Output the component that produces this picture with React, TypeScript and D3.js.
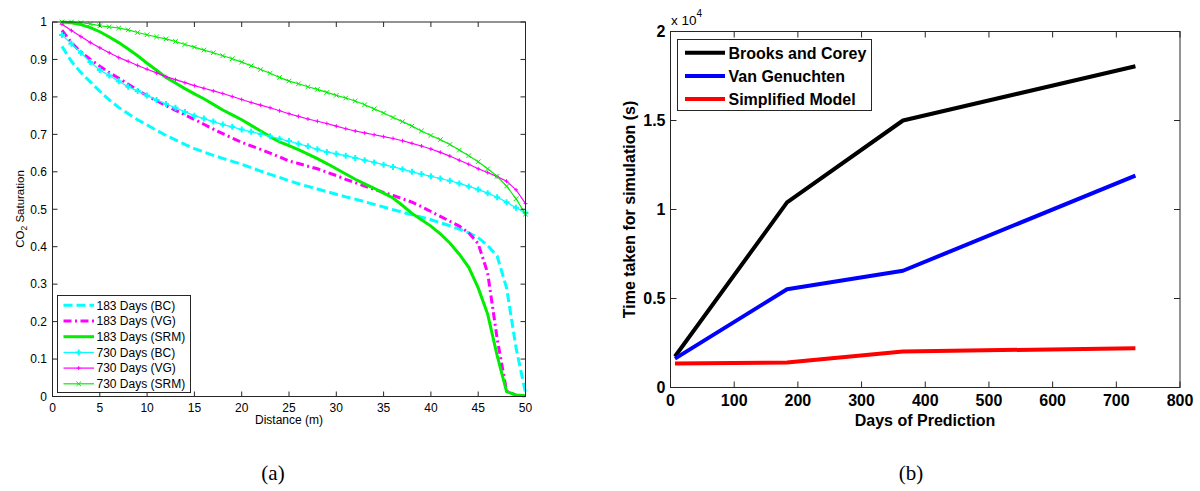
import React from 'react';
import * as d3 from 'd3';

// ---------- Data: panel (a) ----------
const distance = [1,2,3,4,5,6,7,8,9,10,11,12,13,14,15,16,17,18,19,20,21,22,23,24,25,26,27,28,29,30,31,32,33,34,35,36,37,38,39,40,41,42,43,44,45,46,47,48,49,50];

const bc183 = [0.935,0.895,0.865,0.84,0.815,0.792,0.772,0.755,0.739,0.725,0.711,0.697,0.685,0.673,0.662,0.653,0.644,0.636,0.628,0.62,0.611,0.602,0.593,0.585,0.576,0.568,0.561,0.554,0.547,0.54,0.533,0.527,0.52,0.513,0.506,0.499,0.492,0.485,0.479,0.472,0.464,0.456,0.447,0.437,0.424,0.403,0.375,0.29,0.13,0.01];
const vg183 = [0.978,0.945,0.92,0.9,0.882,0.865,0.85,0.834,0.818,0.803,0.79,0.777,0.764,0.752,0.74,0.727,0.714,0.702,0.69,0.679,0.669,0.66,0.65,0.64,0.629,0.622,0.615,0.608,0.599,0.59,0.58,0.571,0.562,0.553,0.545,0.537,0.528,0.519,0.507,0.494,0.481,0.468,0.455,0.437,0.408,0.33,0.155,0.015,0.003,0.002];
const srm183 = [1.0,0.998,0.993,0.985,0.974,0.96,0.945,0.928,0.91,0.89,0.871,0.852,0.837,0.822,0.808,0.795,0.78,0.765,0.752,0.739,0.724,0.709,0.694,0.68,0.67,0.659,0.647,0.635,0.622,0.608,0.594,0.58,0.568,0.556,0.543,0.53,0.51,0.489,0.472,0.455,0.434,0.41,0.38,0.345,0.29,0.22,0.11,0.013,0.004,0.002];
const bc730 = [0.965,0.942,0.918,0.893,0.872,0.857,0.842,0.827,0.816,0.804,0.792,0.781,0.771,0.76,0.75,0.742,0.734,0.726,0.72,0.713,0.707,0.701,0.695,0.688,0.682,0.675,0.668,0.66,0.653,0.648,0.643,0.637,0.631,0.625,0.619,0.613,0.607,0.6,0.594,0.588,0.582,0.576,0.569,0.561,0.553,0.543,0.532,0.519,0.504,0.49];
const vg730 = [0.994,0.977,0.961,0.945,0.931,0.918,0.905,0.895,0.884,0.874,0.864,0.854,0.846,0.838,0.83,0.823,0.816,0.809,0.801,0.793,0.785,0.778,0.771,0.763,0.755,0.748,0.741,0.735,0.729,0.722,0.715,0.709,0.704,0.699,0.694,0.689,0.683,0.676,0.669,0.661,0.652,0.642,0.631,0.62,0.608,0.598,0.587,0.575,0.552,0.515];
const srm730 = [1.0,1.0,0.998,0.995,0.99,0.987,0.984,0.979,0.972,0.966,0.96,0.955,0.948,0.94,0.933,0.925,0.918,0.91,0.902,0.893,0.883,0.873,0.863,0.852,0.842,0.835,0.827,0.82,0.812,0.804,0.797,0.789,0.779,0.768,0.757,0.745,0.734,0.722,0.709,0.697,0.686,0.673,0.658,0.643,0.627,0.608,0.588,0.562,0.528,0.487];

const leftLegend = ['183 Days (BC)','183 Days (VG)','183 Days (SRM)','730 Days (BC)','730 Days (VG)','730 Days (SRM)'];
const leftXTicks = [0,5,10,15,20,25,30,35,40,45,50];
const leftYTicks = [0,0.1,0.2,0.3,0.4,0.5,0.6,0.7,0.8,0.9,1];

// ---------- Data: panel (b) ----------
const days = [7,183,365,730];
const brooksCorey = [1740,10400,15000,18050];
const vanGenuchten = [1620,5520,6560,11900];
const simplified = [1350,1400,2020,2210];
const rightLegend = ['Brooks and Corey','Van Genuchten','Simplified Model'];
const rightXTicks = [0,100,200,300,400,500,600,700,800];
const rightYTicks = [0,5000,10000,15000,20000];
const rightYTickLabels = ['0','0.5','1','1.5','2'];

const FONT = '"Liberation Sans", Arial, sans-serif';
const AX = '#262626';

type Series = { values: number[]; color: string; width: number; dash?: string; marker?: 'plus' | 'x'; msize?: number; mwidth?: number };

const leftSeries: Series[] = [
  { values: bc183, color: '#00FFFF', width: 3, dash: '9,4' },
  { values: vg183, color: '#FF00FF', width: 3, dash: '8,3.5,2,3.5' },
  { values: srm183, color: '#00EE00', width: 3 },
  { values: bc730, color: '#00FFFF', width: 1.2, marker: 'plus', msize: 3, mwidth: 2 },
  { values: vg730, color: '#FF00FF', width: 1.2, marker: 'plus', msize: 2, mwidth: 1 },
  { values: srm730, color: '#00EE00', width: 1.2, marker: 'x', msize: 2.3, mwidth: 1 },
];

function markerPath(kind: 'plus' | 'x', x: number, y: number, s: number) {
  if (kind === 'plus') return `M${x - s},${y}H${x + s}M${x},${y - s}V${y + s}`;
  return `M${x - s},${y - s}L${x + s},${y + s}M${x - s},${y + s}L${x + s},${y - s}`;
}

function LeftChart() {
  const x = d3.scaleLinear().domain([0, 50]).range([52.5, 525.5]);
  const y = d3.scaleLinear().domain([0, 1]).range([396.5, 22]);
  const [x0, x1] = x.range();
  const [y0, y1] = y.range();
  const tl = 5;
  const line = (vals: number[]) =>
    d3.line<number>().x((_, i) => x(distance[i])).y((d) => y(d))(vals) || '';
  const legX0 = 57.5, legY0 = 295.5, legW = 133, legH = 97;
  const legRowY = (i: number) => 305.3 + i * 15.7;
  return (
    <g>
      <rect x={x0} y={y1} width={x1 - x0} height={y0 - y1} fill="#fff" />
      {leftSeries.map((s, i) => (
        <g key={i}>
          <path d={line(s.values)} fill="none" stroke={s.color} strokeWidth={s.width} strokeDasharray={s.dash} />
          {s.marker &&
            s.values.map((v, j) => (
              <path key={j} d={markerPath(s.marker!, x(distance[j]), y(v), s.msize!)} stroke={s.color} strokeWidth={s.mwidth} fill="none" />
            ))}
        </g>
      ))}
      <rect x={x0} y={y1} width={x1 - x0} height={y0 - y1} fill="none" stroke={AX} strokeWidth={1} />
      {leftXTicks.map((t) => (
        <g key={t}>
          <line x1={x(t)} x2={x(t)} y1={y0} y2={y0 - tl} stroke={AX} />
          <line x1={x(t)} x2={x(t)} y1={y1} y2={y1 + tl} stroke={AX} />
          <text x={x(t)} y={411.5} textAnchor="middle" fontSize={12} fontFamily={FONT} fill="#000">{t}</text>
        </g>
      ))}
      {leftYTicks.map((t) => (
        <g key={t}>
          <line x1={x0} x2={x0 + tl} y1={y(t)} y2={y(t)} stroke={AX} />
          <line x1={x1} x2={x1 - tl} y1={y(t)} y2={y(t)} stroke={AX} />
          <text x={47} y={y(t) + 4.3} textAnchor="end" fontSize={12} fontFamily={FONT} fill="#000">{String(t)}</text>
        </g>
      ))}
      <text x={289} y={424} textAnchor="middle" fontSize={12} fontFamily={FONT} fill="#000">Distance (m)</text>
      <text transform="translate(23.5,209) rotate(-90)" textAnchor="middle" fontSize={11.5} fontFamily={FONT} fill="#000">
        CO<tspan dy={3.5} fontSize={8.5}>2</tspan><tspan dy={-3.5}> Saturation</tspan>
      </text>
      <rect x={legX0} y={legY0} width={legW} height={legH} fill="#fff" stroke={AX} strokeWidth={1} />
      {leftSeries.map((s, i) => {
        const ly = legRowY(i);
        return (
          <g key={i}>
            <line x1={63.5} x2={94} y1={ly} y2={ly} stroke={s.color} strokeWidth={s.width} strokeDasharray={s.dash} />
            {s.marker && <path d={markerPath(s.marker, 78.7, ly, s.msize!)} stroke={s.color} strokeWidth={s.mwidth} fill="none" />}
            <text x={96.5} y={ly + 4.3} fontSize={12} fontFamily={FONT} fill="#000">{leftLegend[i]}</text>
          </g>
        );
      })}
    </g>
  );
}

const rightSeries = [
  { values: brooksCorey, color: '#000000' },
  { values: vanGenuchten, color: '#0000FF' },
  { values: simplified, color: '#FF0000' },
];

function RightChart() {
  const x = d3.scaleLinear().domain([0, 800]).range([670.5, 1180]);
  const y = d3.scaleLinear().domain([0, 20000]).range([387.5, 31.5]);
  const [x0, x1] = x.range();
  const [y0, y1] = y.range();
  const tl = 6;
  const line = (vals: number[]) =>
    d3.line<number>().x((_, i) => x(days[i])).y((d) => y(d))(vals) || '';
  return (
    <g>
      <rect x={x0} y={y1} width={x1 - x0} height={y0 - y1} fill="#fff" />
      {rightSeries.map((s, i) => (
        <path key={i} d={line(s.values)} fill="none" stroke={s.color} strokeWidth={4} strokeLinejoin="round" />
      ))}
      <rect x={x0} y={y1} width={x1 - x0} height={y0 - y1} fill="none" stroke={AX} strokeWidth={1} />
      {rightXTicks.map((t) => (
        <g key={t}>
          <line x1={x(t)} x2={x(t)} y1={y0} y2={y0 - tl} stroke={AX} />
          <line x1={x(t)} x2={x(t)} y1={y1} y2={y1 + tl} stroke={AX} />
          <text x={x(t)} y={405.5} textAnchor="middle" fontSize={16} fontWeight="bold" fontFamily={FONT} fill="#000">{t}</text>
        </g>
      ))}
      {rightYTicks.map((t, i) => (
        <g key={t}>
          <line x1={x0} x2={x0 + tl} y1={y(t)} y2={y(t)} stroke={AX} />
          <line x1={x1} x2={x1 - tl} y1={y(t)} y2={y(t)} stroke={AX} />
          <text x={665.5} y={y(t) + 5.5} textAnchor="end" fontSize={16} fontWeight="bold" fontFamily={FONT} fill="#000">{rightYTickLabels[i]}</text>
        </g>
      ))}
      <text x={671} y={25} fontSize={13.5} fontFamily={FONT} fill="#000">
        x 10<tspan dy={-8} fontSize={10}>4</tspan>
      </text>
      <text x={925} y={425.5} textAnchor="middle" fontSize={16} fontWeight="bold" fontFamily={FONT} fill="#000">Days of Prediction</text>
      <text transform="translate(635,209.5) rotate(-90)" textAnchor="middle" fontSize={16} fontWeight="bold" fontFamily={FONT} fill="#000">Time taken for simulation (s)</text>
      <rect x={677.5} y={39.5} width={194} height={71} fill="#fff" stroke={AX} strokeWidth={1} />
      {rightSeries.map((s, i) => {
        const ly = 52.7 + i * 23.2;
        return (
          <g key={i}>
            <line x1={685} x2={725} y1={ly} y2={ly} stroke={s.color} strokeWidth={4} />
            <text x={728.5} y={ly + 6} fontSize={16} fontWeight="bold" fontFamily={FONT} fill="#000">{rightLegend[i]}</text>
          </g>
        );
      })}
    </g>
  );
}

export default function App() {
  return (
    <svg width={1200} height={491} style={{ position: 'absolute', left: 0, top: 0, background: '#fff' }}>
      <rect x={0} y={0} width={1200} height={491} fill="#fff" />
      <LeftChart />
      <RightChart />
      <text x={273} y={480} textAnchor="middle" fontSize={21} fontFamily='"Liberation Serif", "Times New Roman", serif' fill="#000">(a)</text>
      <text x={911} y={480} textAnchor="middle" fontSize={21} fontFamily='"Liberation Serif", "Times New Roman", serif' fill="#000">(b)</text>
    </svg>
  );
}
